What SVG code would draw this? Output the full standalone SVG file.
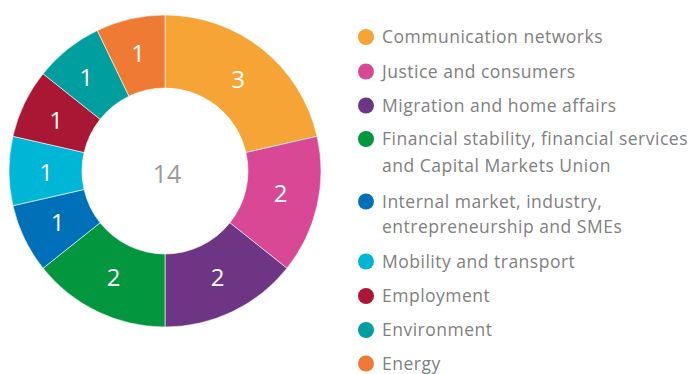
<svg xmlns="http://www.w3.org/2000/svg" width="695" height="374" viewBox="0 0 695 374">
<style>
.seg{stroke:#ffffff;stroke-width:0.6}
.num{font-family:"Open Sans","DejaVu Sans",sans-serif;font-size:24px;fill:#ffffff;text-anchor:middle}
.lg{font-family:"Open Sans","DejaVu Sans",sans-serif;font-size:17.5px;letter-spacing:0.5px;fill:#808080}
.total{font-family:"Open Sans","DejaVu Sans",sans-serif;font-size:25px;fill:#9a9a9a;text-anchor:middle}
</style>
<rect width="695" height="374" fill="#ffffff"/>
<g id="donut">
<g id="seg-communication"><path class="seg" fill="#F6A436" d="M165,15 A156,156 0 0 1 317.09,136.29 L245.92,152.53 A83,83 0 0 0 165,88 Z"/><text class="num" x="238" y="88">3</text></g>
<g id="seg-justice"><path class="seg" fill="#D84895" d="M317.09,136.29 A156,156 0 0 1 286.97,268.26 L229.89,222.75 A83,83 0 0 0 245.92,152.53 Z"/><text class="num" x="280.5" y="202">2</text></g>
<g id="seg-migration"><path class="seg" fill="#6E3585" d="M286.97,268.26 A156,156 0 0 1 165,327 L165,254 A83,83 0 0 0 229.89,222.75 Z"/><text class="num" x="217.5" y="285.5">2</text></g>
<g id="seg-financial"><path class="seg" fill="#02963F" d="M165,327 A156,156 0 0 1 43.03,268.26 L100.11,222.75 A83,83 0 0 0 165,254 Z"/><text class="num" x="113.5" y="285.5">2</text></g>
<g id="seg-internal"><path class="seg" fill="#0070B8" d="M43.03,268.26 A156,156 0 0 1 12.91,205.71 L84.08,189.47 A83,83 0 0 0 100.11,222.75 Z"/><text class="num" x="57.5" y="230.5">1</text></g>
<g id="seg-mobility"><path class="seg" fill="#00B6D6" d="M12.91,205.71 A156,156 0 0 1 12.91,136.29 L84.08,152.53 A83,83 0 0 0 84.08,189.47 Z"/><text class="num" x="46" y="181">1</text></g>
<g id="seg-employment"><path class="seg" fill="#AA1734" d="M12.91,136.29 A156,156 0 0 1 43.03,73.74 L100.11,119.25 A83,83 0 0 0 84.08,152.53 Z"/><text class="num" x="56" y="129">1</text></g>
<g id="seg-environment"><path class="seg" fill="#019EA0" d="M43.03,73.74 A156,156 0 0 1 97.31,30.45 L128.99,96.22 A83,83 0 0 0 100.11,119.25 Z"/><text class="num" x="86" y="86">1</text></g>
<g id="seg-energy"><path class="seg" fill="#EF7A34" d="M97.31,30.45 A156,156 0 0 1 165,15 L165,88 A83,83 0 0 0 128.99,96.22 Z"/><text class="num" x="138" y="62">1</text></g>
<g id="total"><text class="total" x="167" y="183">14</text></g>
</g>
<g id="legend">
<g id="lg-communication"><circle cx="366" cy="37" r="8" fill="#F6A436"/><text class="lg" x="382" y="43">Communication networks</text></g>
<g id="lg-justice"><circle cx="366" cy="71.5" r="8" fill="#D84895"/><text class="lg" x="382" y="77.5">Justice and consumers</text></g>
<g id="lg-migration"><circle cx="366" cy="105.5" r="8" fill="#6E3585"/><text class="lg" x="382" y="111.5">Migration and home affairs</text></g>
<g id="lg-financial"><circle cx="366" cy="139" r="8" fill="#02963F"/><text class="lg" x="382" y="145">Financial stability, financial services</text><text class="lg" x="382" y="172">and Capital Markets Union</text></g>
<g id="lg-internal"><circle cx="366" cy="201.5" r="8" fill="#0070B8"/><text class="lg" x="382" y="207.5">Internal market, industry,</text><text class="lg" x="382" y="232.5">entrepreneurship and SMEs</text></g>
<g id="lg-mobility"><circle cx="366" cy="261.5" r="8" fill="#00B6D6"/><text class="lg" x="382" y="267.5">Mobility and transport</text></g>
<g id="lg-employment"><circle cx="366" cy="296" r="8" fill="#AA1734"/><text class="lg" x="382" y="302">Employment</text></g>
<g id="lg-environment"><circle cx="366" cy="330" r="8" fill="#019EA0"/><text class="lg" x="382" y="336">Environment</text></g>
<g id="lg-energy"><circle cx="366" cy="363.5" r="8" fill="#EF7A34"/><text class="lg" x="382" y="369.5">Energy</text></g>
</g>
</svg>
